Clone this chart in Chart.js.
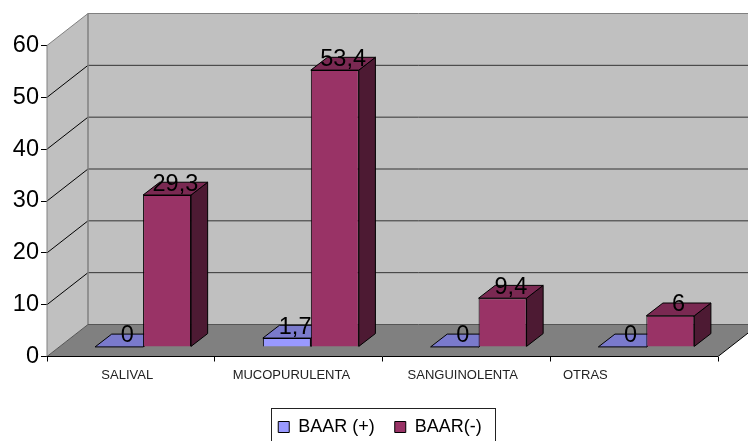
<!DOCTYPE html>
<html>
<head>
<meta charset="utf-8">
<style>
  html, body { margin: 0; padding: 0; background: #fff; overflow: hidden; }
  canvas { display: block; }
</style>
<script src="https://cdn.jsdelivr.net/npm/chart.js@4"></script>
</head>
<body>
<canvas id="myChart" width="748" height="441"></canvas>
<script>
const categories = ['SALIVAL', 'MUCOPURULENTA', 'SANGUINOLENTA', 'OTRAS'];
const baarPos = [0, 1.7, 0, 0];
const baarNeg = [29.3, 53.4, 9.4, 6];
const yTicks = [0, 10, 20, 30, 40, 50, 60];
// the labels sit left of centre, trailing blanks push them there
const labelTail = [2, 4, 2, 27];

const FONT = '"Liberation Sans", Arial, sans-serif';
const DEPTH = { x: 41, y: -32 };      // floor depth
const BAR_SHIFT = { x: 12.2, y: -9.6 };  // bars stand inside the floor
const BAR_DEPTH = { x: 16.6, y: -12.8 };

function poly(ctx, pts, fill, stroke) {
    ctx.beginPath();
    pts.forEach((p, i) => i ? ctx.lineTo(p[0], p[1]) : ctx.moveTo(p[0], p[1]));
    ctx.closePath();
    if (fill) { ctx.fillStyle = fill; ctx.fill(); }
    if (stroke) { ctx.strokeStyle = stroke; ctx.lineWidth = 1; ctx.stroke(); }
}

function drawRoom(chart) {
    const { ctx, chartArea: a, scales: { y } } = chart;
    const dx = DEPTH.x, dy = DEPTH.y;
    // side wall, back wall, floor
    poly(ctx, [[a.left, a.top], [a.left + dx, a.top + dy], [a.left + dx, a.bottom + dy], [a.left, a.bottom]], '#c0c0c0');
    poly(ctx, [[a.left + dx, a.top + dy], [a.right + dx, a.top + dy], [a.right + dx, a.bottom + dy], [a.left + dx, a.bottom + dy]], '#c0c0c0');
    poly(ctx, [[a.left, a.bottom], [a.right, a.bottom], [a.right + dx, a.bottom + dy], [a.left + dx, a.bottom + dy]], '#808080');

    yTicks.slice(1, -1).forEach(v => {
        const py = y.getPixelForValue(v);
        ctx.strokeStyle = '#000';
        ctx.lineWidth = 1;
        ctx.beginPath();
        ctx.moveTo(a.left, py);
        ctx.lineTo(a.left + dx, py + dy);
        ctx.stroke();
        ctx.strokeStyle = '#333';
        ctx.beginPath();
        ctx.moveTo(a.left + dx, py + dy);
        ctx.lineTo(a.right + dx, py + dy);
        ctx.stroke();
    });

    // wall edges
    ctx.strokeStyle = '#808080';
    ctx.lineWidth = 1;
    ctx.beginPath();
    ctx.moveTo(a.left, a.bottom);
    ctx.lineTo(a.left, a.top);
    ctx.lineTo(a.left + dx, a.top + dy);
    ctx.lineTo(a.right + dx, a.top + dy);
    ctx.stroke();
    ctx.lineWidth = 1.5;
    ctx.beginPath();
    ctx.moveTo(a.left + dx, a.top + dy);
    ctx.lineTo(a.left + dx, a.bottom + dy);
    ctx.stroke();
    ctx.strokeStyle = '#555';
    ctx.lineWidth = 1;
    ctx.beginPath();
    ctx.moveTo(a.left + dx, a.bottom + dy);
    ctx.lineTo(a.right + dx, a.bottom + dy);
    ctx.moveTo(a.left + dx, a.bottom + dy);
    ctx.lineTo(a.left, a.bottom);
    ctx.stroke();
    ctx.strokeStyle = '#000';
    ctx.beginPath();
    ctx.moveTo(a.left, a.bottom);
    ctx.lineTo(a.right, a.bottom);
    ctx.lineTo(a.right + dx, a.bottom + dy);
    ctx.stroke();
}

const box3d = {
    id: 'box3d',
    afterLayout(chart) {
        // legend block is a little right of the page centre
        chart.legend.left += 21;
        chart.legend.right += 21;
        chart.legend.top += 5;
        chart.legend.bottom += 5;
    },
    beforeDatasetsDraw(chart) {
        const { ctx } = chart;
        const dx = BAR_DEPTH.x, dy = BAR_DEPTH.y;
        ctx.save();
        drawRoom(chart);
        // top and side faces first, blue before red; the fronts come from the library
        ctx.translate(BAR_SHIFT.x, BAR_SHIFT.y);
        chart.data.datasets.forEach((ds, i) => {
            chart.getDatasetMeta(i).data.forEach(bar => {
                const l = bar.x - bar.width / 2, r = bar.x + bar.width / 2;
                const t = bar.y, b = bar.base;
                poly(ctx, [[r, t], [r + dx, t + dy], [r + dx, b + dy], [r, b]], ds.sideColor, '#000');
                poly(ctx, [[l, t], [l + dx, t + dy], [r + dx, t + dy], [r, t]], ds.topColor, '#000');
            });
        });
        ctx.restore();
    },
    beforeDatasetDraw(chart) {
        chart.ctx.save();
        chart.ctx.translate(BAR_SHIFT.x, BAR_SHIFT.y);
    },
    afterDatasetDraw(chart) {
        chart.ctx.restore();
    },
    afterDatasetsDraw(chart) {
        const { ctx } = chart;
        ctx.save();
        ctx.fillStyle = '#000';
        ctx.font = '23.5px ' + FONT;
        ctx.textAlign = 'center';
        ctx.textBaseline = 'alphabetic';
        chart.data.datasets.forEach((ds, i) => {
            chart.getDatasetMeta(i).data.forEach((bar, j) => {
                const text = String(ds.data[j]).replace('.', ',');
                ctx.fillText(text, bar.x + BAR_SHIFT.x + BAR_DEPTH.x / 2, bar.y + BAR_SHIFT.y - 4.5);
            });
        });
        ctx.restore();
    },
    afterDraw(chart) {
        const { ctx } = chart;
        ctx.save();
        ctx.strokeStyle = '#222';
        ctx.lineWidth = 1;
        ctx.strokeRect(271.5, 408.5, 224, 40);
        ctx.restore();
    }
};

new Chart(document.getElementById('myChart').getContext('2d'), {
    type: 'bar',
    data: {
        labels: categories,
        datasets: [
            {
                label: 'BAAR (+)',
                data: baarPos,
                backgroundColor: '#9999ff',
                topColor: '#7a7acc',
                sideColor: '#5c5c99',
                borderColor: '#000',
                borderWidth: 1
            },
            {
                label: 'BAAR(-)',
                data: baarNeg,
                backgroundColor: '#993366',
                topColor: '#7a2952',
                sideColor: '#4d1a33',
                borderColor: '#000',
                borderWidth: 1
            }
        ]
    },
    options: {
        responsive: false,
        animation: false,
        datasets: { bar: { categoryPercentage: 0.572, barPercentage: 1 } },
        layout: { padding: { left: 0, right: 30, top: 45.5, bottom: 0 } },
        plugins: {
            tooltip: { enabled: false },
            title: { display: false },
            legend: {
                position: 'bottom',
                labels: {
                    color: '#000',
                    font: { family: FONT, size: 18 },
                    boxWidth: 11,
                    boxHeight: 11,
                    padding: 20
                }
            }
        },
        scales: {
            x: {
                afterFit: s => { s.height = 36.5; },
                border: { display: false },
                grid: { drawOnChartArea: false, drawTicks: true, tickLength: 5, tickColor: '#000', offset: true },
                ticks: {
                    color: '#222',
                    font: { family: FONT, size: 13 },
                    padding: 6,
                    maxRotation: 0,
                    autoSkip: false,
                    callback: (v, i) => categories[i] + ' '.repeat(labelTail[i])
                }
            },
            y: {
                min: 0,
                max: 60,
                afterFit: s => { s.width = 47; },
                afterBuildTicks: s => { s.ticks = yTicks.map(value => ({ value })); },
                border: { display: false },
                grid: { drawOnChartArea: false, drawTicks: true, tickLength: 6, tickColor: '#000' },
                ticks: {
                    color: '#000',
                    font: { family: FONT, size: 23.5 },
                    padding: 2
                }
            }
        }
    },
    plugins: [box3d]
});
</script>
</body>
</html>
